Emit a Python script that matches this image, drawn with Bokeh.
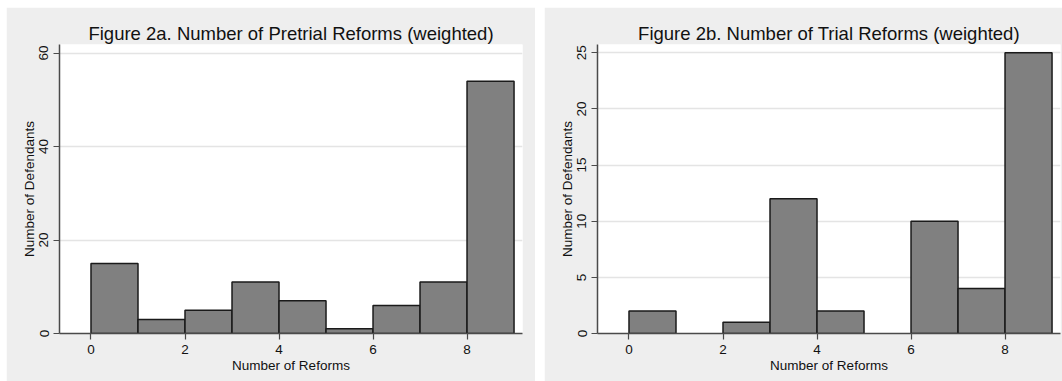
from bokeh.plotting import figure
from bokeh.layouts import row
from bokeh.models import Range1d, FixedTicker, ColumnDataSource
from bokeh.embed import file_html
from bokeh.resources import INLINE

# ---- data ----
bin_left = [0, 1, 2, 3, 4, 5, 6, 7, 8]
bin_right = [1, 2, 3, 4, 5, 6, 7, 8, 9]
pretrial_counts = [15, 3, 5, 11, 7, 1, 6, 11, 54]
trial_counts = [2, 0, 1, 12, 2, 0, 10, 4, 25]
x_ticks = [0, 2, 4, 6, 8]
pretrial_yticks = [0, 20, 40, 60]
trial_yticks = [0, 5, 10, 15, 20, 25]
titles = ["Figure 2a. Number of Pretrial Reforms (weighted)",
          "Figure 2b. Number of Trial Reforms (weighted)"]
x_label = "Number of Reforms"
y_label = "Number of Defendants"

FONT = "Liberation Sans"
PANEL = "#eeeeee"


def make(title, counts, yticks, ymax, width, mbl, mbr):
    keep = [i for i, c in enumerate(counts) if c > 0]
    src = ColumnDataSource(dict(
        left=[bin_left[i] for i in keep],
        right=[bin_right[i] for i in keep],
        top=[counts[i] for i in keep],
    ))
    p = figure(width=width, height=374, output_backend="svg", toolbar_location=None,
               x_range=Range1d(-0.67, 9.18), y_range=Range1d(0, ymax),
               min_border_left=mbl, min_border_right=mbr,
               min_border_top=37, min_border_bottom=48,
               background_fill_color="white", border_fill_color=PANEL,
               outline_line_color=None, title=title)
    p.quad(left="left", right="right", bottom=0, top="top", source=src,
           fill_color="#808080", line_color="#1a1a1a", line_width=1.5)

    p.title.align = "center"
    p.title.text_font = FONT
    p.title.text_font_size = "18.5px"
    p.title.text_font_style = "normal"
    p.title.text_color = "#111111"
    p.title.standoff = 2

    p.xaxis.ticker = FixedTicker(ticks=x_ticks)
    p.yaxis.ticker = FixedTicker(ticks=yticks)
    p.yaxis.major_label_orientation = "vertical"
    for ax in (p.xaxis[0], p.yaxis[0]):
        ax.axis_line_color = "#4a4a4a"
        ax.axis_line_width = 1.5
        ax.major_tick_line_color = "#4a4a4a"
        ax.major_tick_line_width = 1.2
        ax.major_tick_out = 6
        ax.major_tick_in = 0
        ax.minor_tick_line_color = None
        ax.major_label_text_font = FONT
        ax.major_label_text_font_size = "13.5px"
        ax.major_label_text_color = "#111111"
        ax.axis_label_text_font = FONT
        ax.axis_label_text_font_size = "13.5px"
        ax.axis_label_text_font_style = "normal"
        ax.axis_label_text_color = "#111111"
    p.xaxis.axis_label = x_label
    p.yaxis.axis_label = y_label
    p.xaxis.major_label_standoff = 5
    p.xaxis.axis_label_standoff = 1
    p.yaxis.major_label_standoff = 5
    p.yaxis.axis_label_standoff = 0

    p.xgrid.visible = False
    p.ygrid.ticker = FixedTicker(ticks=yticks)
    p.ygrid.grid_line_color = "#e4e4e4"
    p.ygrid.grid_line_width = 1.5
    return p


p1 = make(titles[0], pretrial_counts, pretrial_yticks, 61.84, 529, 53, 13)
p2 = make(titles[1], trial_counts, trial_yticks, 25.74, 518, 53, 2)

layout = row([p1, p2], spacing=9, margin=(7, 0, 0, 6))
open("out.html", "w").write(file_html(layout, INLINE))
